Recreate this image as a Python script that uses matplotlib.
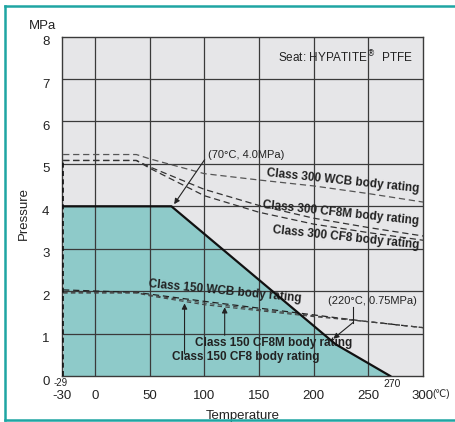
import matplotlib
matplotlib.use("Agg")
import matplotlib.pyplot as plt
import matplotlib.transforms as mtransforms
from matplotlib.lines import Line2D

plt.rcParams['font.family'] = ['Liberation Sans', 'DejaVu Sans']
plt.rcParams['axes.unicode_minus'] = False

# seat rating (solid line / filled area)
seat_t = [-29, 70, 220, 270]
seat_p = [4.0, 4.0, 0.75, 0.0]

# body ratings (dashed lines)
rating_t = [-29, 38, 50, 100, 150, 200, 250, 300]
wcb_300 = [5.22, 5.22, 5.12, 4.77, 4.62, 4.48, 4.30, 4.10]
cf8m_300 = [5.08, 5.08, 4.93, 4.40, 4.02, 3.72, 3.50, 3.30]
cf8_300 = [5.08, 5.08, 4.90, 4.25, 3.86, 3.58, 3.38, 3.20]
wcb_150 = [2.03, 1.97, 1.93, 1.76, 1.60, 1.44, 1.28, 1.14]
cf8m_150 = [1.96, 1.96, 1.91, 1.72, 1.57, 1.42, 1.28, 1.14]
cf8_150 = [1.96, 1.96, 1.89, 1.68, 1.54, 1.40, 1.28, 1.14]

x_ticks = [-30, 0, 50, 100, 150, 200, 250, 300]
y_ticks = [0, 1, 2, 3, 4, 5, 6, 7, 8]

fig = plt.figure(figsize=(4.55, 4.22), dpi=100)
ax = fig.add_axes([0.1363, 0.109, 0.7934, 0.8043])
ax.set_facecolor('#e6e6e8')
ax.set_xlim(-30, 300)
ax.set_ylim(0, 8)

ax.fill_between(seat_t, seat_p, 0, color='#8ecac9', lw=0, zorder=1)

grid_c = '#3a3a3a'
for x in x_ticks[1:-1]:
    ax.axvline(x, color=grid_c, lw=0.9, zorder=2)
for y in y_ticks[1:-1]:
    ax.axhline(y, color=grid_c, lw=0.9, zorder=2)

ax.plot(rating_t, wcb_300, color='#555555', lw=0.9, dashes=[5, 3], zorder=3)
ax.plot(rating_t, cf8m_300, color='#333333', lw=0.9, dashes=[5, 3], zorder=3)
ax.plot(rating_t, cf8_300, color='#333333', lw=0.9, dashes=[5, 3], zorder=3)
ax.plot(rating_t, wcb_150, color='#222222', lw=0.9, dashes=[5, 3], zorder=3)
ax.plot(rating_t, cf8m_150, color='#444444', lw=0.8, dashes=[4, 3], zorder=3)
ax.plot(rating_t, cf8_150, color='#444444', lw=0.8, dashes=[4, 3], zorder=3)
ax.plot([-29, -29], [0, cf8m_300[0]], color='#111111', lw=1.2, dashes=[3, 2], zorder=3)

ax.plot(seat_t, seat_p, color='#111111', lw=1.6, zorder=4)

for s in ax.spines.values():
    s.set_color(grid_c)
    s.set_linewidth(1.0)

ax.set_xticks(x_ticks)
ax.set_yticks(y_ticks)
ax.tick_params(length=0, labelsize=9.5, colors='#222222')
ax.tick_params(axis='x', pad=10)
ax.tick_params(axis='y', pad=9)
off = mtransforms.ScaledTranslation(0, -0.04, fig.dpi_scale_trans)
for lab in ax.get_yticklabels():
    lab.set_transform(lab.get_transform() + off)

ax.set_xlabel('Temperature', fontsize=9.5, color='#222222')
ax.xaxis.set_label_coords(0.5, -0.1)
ax.set_ylabel('Pressure', fontsize=9.5, color='#222222')
ax.yaxis.set_label_coords(-0.088, 0.48)
fig.text(42 / 455, 1 - 26 / 422, 'MPa', fontsize=9.5, ha='center', va='center', color='#222222')

ax.text(-31.5, -0.17, '-29', fontsize=7, ha='center', va='center', color='#222222', clip_on=False)
ax.text(272, -0.2, '270', fontsize=7.5, ha='center', va='center', color='#222222', clip_on=False)
ax.text(317, -0.43, '(℃)', fontsize=7, ha='center', va='center', color='#222222', clip_on=False)

ax.text(291, 7.51, r'Seat: HYPATITE$^{\circledR}$  PTFE', fontsize=8.5, ha='right', va='center', color='#222222')

bold = dict(fontsize=8.5, fontweight='bold', color='#222222', ha='center', va='center', rotation_mode='anchor')
ax.text(226.6, 4.59, 'Class 300 WCB body rating', rotation=-6, **bold)
ax.text(225, 3.83, 'Class 300 CF8M body rating', rotation=-6, **bold)
ax.text(229.6, 3.26, 'Class 300 CF8 body rating', rotation=-6, **bold)
ax.text(118.6, 2.0, 'Class 150 WCB body rating', rotation=-5.5, **bold)
ax.text(163.6, 0.77, 'Class 150 CF8M body rating', **bold)
ax.text(137.9, 0.45, 'Class 150 CF8 body rating', **bold)

arrow = dict(arrowstyle='-|>', color='#222222', lw=0.8, mutation_scale=8, shrinkA=0, shrinkB=0)
ax.annotate('', xy=(72.5, 4.05), xytext=(100.4, 5.1), arrowprops=arrow)
ax.text(103, 5.22, '(70°C, 4.0MPa)', fontsize=8, ha='left', va='center', color='#222222')

ax.text(213, 1.76, '(220°C, 0.75MPa)', fontsize=8, ha='left', va='center', color='#222222')
ax.plot([236, 236], [1.62, 1.26], color='#222222', lw=0.8, zorder=5)
ax.annotate('', xy=(218, 0.88), xytext=(236, 1.26), arrowprops=arrow)

ax.annotate('', xy=(82, 1.71), xytext=(82, 0.53), arrowprops=arrow)
ax.annotate('', xy=(118.7, 1.62), xytext=(118.7, 0.96), arrowprops=arrow)

frame_c = '#1fa5a3'
fig.add_artist(Line2D([5 / 455, 5 / 455], [1 - 420 / 422, 1 - 6 / 422], color=frame_c, lw=1.8, transform=fig.transFigure))
fig.add_artist(Line2D([5 / 455, 1], [1 - 6 / 422, 1 - 6 / 422], color=frame_c, lw=1.8, transform=fig.transFigure))
fig.add_artist(Line2D([5 / 455, 1], [1 - 420 / 422, 1 - 420 / 422], color=frame_c, lw=1.8, transform=fig.transFigure))

fig.savefig('out.png', dpi=100)
